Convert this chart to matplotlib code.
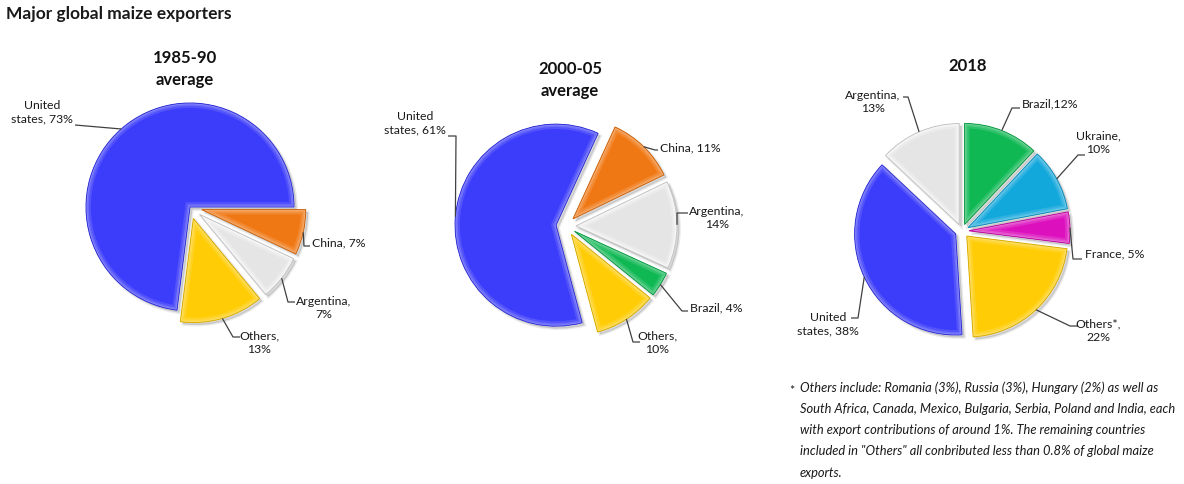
import matplotlib
matplotlib.use("Agg")
import matplotlib.pyplot as plt
from matplotlib.patches import Wedge
from matplotlib.colors import to_rgb
import numpy as np

W, H = 1184, 484

plt.rcParams['font.family'] = ['Lato', 'DejaVu Sans']

# ---- data ----
title_main = "Major global maize exporters"

p1_title = "1985-90\naverage"
p1_labels = ["United\nstates, 73%", "Others,\n13%", "Argentina,\n7%", "China, 7%"]
p1_values = [73, 13, 7, 7]

p2_title = "2000-05\naverage"
p2_labels = ["United\nstates, 61%", "Others,\n10%", "Brazil, 4%", "Argentina,\n14%", "China, 11%"]
p2_values = [61, 10, 4, 14, 11]

p3_title = "2018"
p3_labels = ["Brazil,12%", "Ukraine,\n10%", "France, 5%", "Others*,\n22%", "United\nstates, 38%", "Argentina,\n13%"]
p3_values = [12, 10, 5, 22, 38, 13]

footnote = ("Others include: Romania (3%), Russia (3%), Hungary (2%) as well as\n"
            "South Africa, Canada, Mexico, Bulgaria, Serbia, Poland and India, each\n"
            "with export contributions of around 1%. The remaining countries\n"
            "included in \"Others\" all conbributed less than 0.8% of global maize\n"
            "exports.")

BLUE = "#3c3cfb"
ORANGE = "#f07814"
GREY = "#e5e5e5"
YELLOW = "#ffcc05"
GREEN = "#10b854"
CYAN = "#13a8dc"
MAGENTA = "#dc10bd"

p1_colors = [BLUE, YELLOW, GREY, ORANGE]
p2_colors = [BLUE, YELLOW, GREEN, GREY, ORANGE]
p3_colors = [GREEN, CYAN, MAGENTA, YELLOW, BLUE, GREY]

fig = plt.figure(figsize=(W / 100, H / 100), dpi=100)
ax = fig.add_axes([0, 0, 1, 1])


def Y(y):
    return H - y


def lighten(c, f):
    r, g, b = to_rgb(c)
    return (r + (1 - r) * f, g + (1 - g) * f, b + (1 - b) * f)


def darken(c, f):
    r, g, b = to_rgb(c)
    return (r * (1 - f), g * (1 - f), b * (1 - f))


def draw_pie(values, colors, center, radius, explode, startangle, counterclock):
    wedges, _ = ax.pie(values, colors=colors, explode=explode, startangle=startangle,
                       counterclock=counterclock, center=(center[0], Y(center[1])),
                       radius=radius, frame=True,
                       wedgeprops=dict(linewidth=0, zorder=3))
    for w, c in zip(wedges, colors):
        cx, cy = w.center
        # soft drop shadow
        sh = Wedge((cx + 2.5, cy - 2.5), w.r, w.theta1, w.theta2,
                   facecolor=(0, 0, 0, 0.15), edgecolor=(0, 0, 0, 0.08), linewidth=2, zorder=2)
        ax.add_patch(sh)
        # bevelled rim
        for lw, f in [(7, 0.12), (4, 0.25), (1.6, 0.45)]:
            rim = Wedge((cx, cy), w.r, w.theta1, w.theta2, facecolor="none",
                        edgecolor=lighten(c, f) if c != GREY else lighten(c, f * 2),
                        linewidth=lw, zorder=4)
            ax.add_patch(rim)
            rim.set_clip_path(w)
        out = Wedge((cx, cy), w.r, w.theta1, w.theta2, facecolor="none",
                    edgecolor=darken(c, 0.15), linewidth=0.7, zorder=5)
        ax.add_patch(out)
    return wedges


def anchor(w):
    cx, cy = w.center
    a = np.deg2rad((w.theta1 + w.theta2) / 2)
    return cx + w.r * np.cos(a), cy + w.r * np.sin(a)


def leader(w, pts):
    x0, y0 = anchor(w)
    xs = [x0] + [p[0] for p in pts]
    ys = [y0] + [Y(p[1]) for p in pts]
    ax.plot(xs, ys, color="#404040", lw=0.9, zorder=6, solid_capstyle="butt")


LBL = dict(fontsize=8.8, color="#1a1a1a", zorder=7, linespacing=1.3)
TTL = dict(fontsize=12, fontweight="bold", color="#111111", linespacing=1.4)

# ---- 1985-90 ----
w1 = draw_pie(p1_values, p1_colors, (190, 207), 104, [0, 12, 12, 12], 0, True)
ax.text(185, Y(69), p1_title, ha="center", va="center", **TTL)
lay1 = [
    ((42, 112), "center", [(75, 125)]),
    ((259, 343), "center", [(233, 337), (240, 337)]),
    ((324, 308), "center", [(288, 302), (295, 302)]),
    ((312, 243), "left", [(304, 246), (310, 246)]),
]
for w, lab, (pos, ha, pts) in zip(w1, p1_labels, lay1):
    leader(w, pts)
    ax.text(pos[0], Y(pos[1]), lab, ha=ha, va="center", multialignment="center", **LBL)

# ---- 2000-05 ----
w2 = draw_pie(p2_values, p2_colors, (566, 226), 101, [10] * 5, 65.4, True)
ax.text(570, Y(80), p2_title, ha="center", va="center", **TTL)
lay2 = [
    ((415, 123), "center", [(456, 136), (448, 136)]),
    ((657, 343), "center", [(633, 342), (640, 342)]),
    ((690, 308), "left", [(682, 311), (688, 311)]),
    ((717, 218), "center", [(677, 213), (688, 213)]),
    ((660, 148), "left", [(655, 150), (658, 150)]),
]
for w, lab, (pos, ha, pts) in zip(w2, p2_labels, lay2):
    leader(w, pts)
    ax.text(pos[0], Y(pos[1]), lab, ha=ha, va="center", multialignment="center", **LBL)

# ---- 2018 ----
w3 = draw_pie(p3_values, p3_colors, (962, 231), 101, [7] * 6, 90, False)
ax.text(968, Y(66), p3_title, ha="center", va="center", **TTL)
lay3 = [
    ((1022, 104), "left", [(1012, 108), (1020, 108)]),
    ((1098, 143), "center", [(1078, 155), (1085, 155)]),
    ((1085, 254), "left", [(1073, 259), (1082, 259)]),
    ((1098, 331), "center", [(1070, 326), (1078, 326)]),
    ((828, 324), "center", [(858, 318), (851, 318)]),
    ((873, 102), "center", [(908, 97), (903, 97)]),
]
for w, lab, (pos, ha, pts) in zip(w3, p3_labels, lay3):
    leader(w, pts)
    ax.text(pos[0], Y(pos[1]), lab, ha=ha, va="center", multialignment="center", **LBL)

ax.text(6, Y(14), title_main, ha="left", va="center", fontsize=12.5, fontweight="bold",
        color="#1a1a1a")

ax.text(789, Y(391), "*", ha="left", va="center", fontsize=9, color="#1a1a1a")
ax.text(800, Y(381), footnote, ha="left", va="top", fontsize=9.3, style="italic",
        color="#1a1a1a", linespacing=1.93)

ax.set_xlim(0, W)
ax.set_ylim(0, H)
ax.set_aspect("auto")
ax.set_axis_off()

fig.savefig("out.png", dpi=100, facecolor="white")
